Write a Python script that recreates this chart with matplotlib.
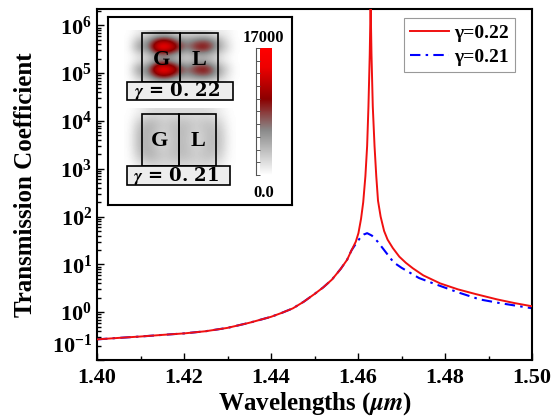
import numpy as np
import matplotlib
matplotlib.use("Agg")
import matplotlib.pyplot as plt
from matplotlib.colors import LinearSegmentedColormap, Normalize
from matplotlib.cm import ScalarMappable
from matplotlib.patches import Rectangle
from matplotlib.transforms import ScaledTranslation
from matplotlib.ticker import FixedLocator, LogLocator, NullFormatter, FuncFormatter

plt.rcParams["font.family"] = ["Liberation Serif", "DejaVu Serif"]
plt.rcParams["font.weight"] = "bold"
plt.rcParams["mathtext.fontset"] = "custom"
plt.rcParams["mathtext.rm"] = "Liberation Serif:bold"
plt.rcParams["mathtext.bf"] = "Liberation Serif:bold"
plt.rcParams["mathtext.it"] = "Liberation Serif:italic:bold"

# ---- data ----
wl_022 = [1.400, 1.405, 1.410, 1.415, 1.420, 1.425, 1.430, 1.435, 1.440, 1.4425,
          1.445, 1.4475, 1.450, 1.452, 1.454, 1.456, 1.4575, 1.4585, 1.4595, 1.4601,
          1.4607, 1.4612, 1.4617, 1.4621, 1.4624, 1.4627, 1.4629, 1.4631, 1.4634,
          1.4638, 1.4642, 1.4646, 1.4652, 1.4660, 1.4668, 1.4680, 1.4695, 1.4710,
          1.4726, 1.4750, 1.4789, 1.4830, 1.4870, 1.4920, 1.4960, 1.5000]
tc_022 = [0.27, 0.29, 0.31, 0.335, 0.36, 0.40, 0.47, 0.60, 0.80, 0.97,
          1.2, 1.65, 2.4, 3.3, 4.8, 8.0, 12.5, 19.6, 30, 45,
          90, 200, 700, 3000, 2.0e4, 2.5e5, 3.0e6, 2.5e5, 2.0e4,
          3000, 700, 215, 100, 50, 33, 22, 14.5, 10.8,
          8.3, 5.9, 4.0, 3.0, 2.4, 1.85, 1.55, 1.33]

wl_021 = [1.400, 1.405, 1.410, 1.415, 1.420, 1.425, 1.430, 1.435, 1.440, 1.4425,
          1.445, 1.4475, 1.450, 1.452, 1.454, 1.456, 1.4575, 1.4585, 1.4595, 1.4605,
          1.4613, 1.4621, 1.4632, 1.4645, 1.4660, 1.4682, 1.4700, 1.4740, 1.4773,
          1.4830, 1.4880, 1.4926, 1.5000]
tc_021 = [0.27, 0.29, 0.31, 0.335, 0.36, 0.40, 0.47, 0.60, 0.80, 0.97,
          1.2, 1.65, 2.4, 3.3, 4.8, 8.0, 12.5, 19.6, 27, 36,
          42, 45, 40, 30, 20, 11, 8.5, 5.2, 4.0,
          2.6, 1.85, 1.55, 1.21]

labels = ["\u03b3=0.22", "\u03b3=0.21"]

# field maps shown in the inset (fraction of 17000, coarse samples)
cmax = 17000
field_022 = np.array([
    [0, .05, .10, .15, .15, .10, .10, .10, .10, .05, .05, 0],
    [0, .20, .30, .60, .65, .40, .30, .40, .45, .30, .10, 0],
    [0, .30, .35, .95, 1.0, .65, .35, .60, .65, .35, .15, 0],
    [0, .10, .15, .35, .35, .25, .15, .25, .25, .15, .05, 0],
    [0, .10, .15, .35, .35, .25, .15, .25, .25, .15, .05, 0],
    [0, .30, .35, .95, 1.0, .65, .35, .60, .65, .35, .15, 0],
    [0, .20, .30, .60, .65, .40, .30, .40, .45, .30, .10, 0],
    [0, .05, .10, .15, .15, .10, .10, .10, .10, .05, .05, 0],
]) * cmax
field_021 = np.array([
    [0, .05, .10, .10, .10, .10, .10, .10, .05, 0],
    [0, .20, .25, .15, .20, .20, .15, .20, .15, 0],
    [0, .25, .20, .10, .20, .20, .10, .20, .20, 0],
    [0, .25, .20, .10, .20, .20, .10, .20, .20, 0],
    [0, .20, .25, .15, .20, .20, .15, .20, .15, 0],
    [0, .05, .10, .10, .10, .10, .10, .10, .05, 0],
]) * cmax

W, H = 551, 416
fig = plt.figure(figsize=(W / 100, H / 100), dpi=100)
ax = fig.add_axes([97 / W, 1 - 360 / H, 435 / W, 351 / H])

ax.plot(wl_022, tc_022, color="#f01010", lw=1.4, label=labels[0], zorder=3)
ax.plot(wl_021, tc_021, color="#0000ff", lw=1.5, dashes=(5, 2.5, 1.2, 2.5),
        label=labels[1], zorder=2)

ax.set_yscale("log")
ax.set_xlim(1.40, 1.50)
ax.set_ylim(0.1, 2.2e6)
ax.set_xticks(np.arange(1.40, 1.501, 0.02))
ax.xaxis.set_minor_locator(FixedLocator(np.arange(1.41, 1.50, 0.02)))
ax.xaxis.set_major_formatter(FuncFormatter(lambda v, p: f"{v:.2f}"))
ax.yaxis.set_major_locator(FixedLocator([1e-1, 1e0, 1e1, 1e2, 1e3, 1e4, 1e5, 1e6]))
ax.yaxis.set_minor_locator(LogLocator(base=10, subs=np.arange(2, 10), numticks=20))
ax.yaxis.set_minor_formatter(NullFormatter())
ax.yaxis.set_major_formatter(FuncFormatter(lambda v, p: r"$\mathbf{10^{%d}}$" % round(np.log10(v))))
ax.tick_params(which="both", direction="in", top=False, right=False, labelsize=16, width=1.0)
ax.tick_params(which="major", length=5)
ax.tick_params(which="minor", length=3)
ax.tick_params(axis="x", pad=6)
for s in ax.spines.values():
    s.set_linewidth(1.5)

# lift the bottom y label clear of the 1.40 label, as in the original
low = ax.yaxis.get_major_ticks()[0].label1
low.set_transform(low.get_transform() + ScaledTranslation(0, 0.16, fig.dpi_scale_trans))

ax.set_xlabel(r"Wavelengths ($\mu m$)", fontsize=18, fontweight="bold",
              math_fontfamily="stix", labelpad=1)
ax.set_ylabel("Transmission Coefficient", fontsize=18, fontweight="bold", labelpad=11)

leg = ax.legend(loc="upper right", bbox_to_anchor=(0.961, 0.974), borderaxespad=0,
                fancybox=False, edgecolor="#808080", fontsize=14, handlelength=2.0,
                handletextpad=0.3, borderpad=0.3, labelspacing=0.35)
leg.get_frame().set_linewidth(0.8)

# ---- inset with field maps ----
cmap = LinearSegmentedColormap.from_list(
    "gr", [(0, "#ffffff"), (0.35, "#8a8a8a"), (0.6, "#8b0000"), (0.85, "#ee0000"), (1, "#ff0000")])
ins = fig.add_axes([108 / W, 1 - 205 / H, 184 / W, 188 / H])
ins.set_xlim(108, 292)
ins.set_ylim(205, 17)
ins.set_xticks([])
ins.set_yticks([])
for s in ins.spines.values():
    s.set_linewidth(1.5)

ins.imshow(field_022, extent=(124, 240, 86, 30), cmap=cmap, vmin=0, vmax=cmax,
           interpolation="bicubic", aspect="auto")
ins.imshow(field_021, extent=(124, 236, 172, 108), cmap=cmap, vmin=0, vmax=cmax,
           interpolation="bicubic", aspect="auto")

def cell(x0, y0, x1, y1, face="none"):
    ins.add_patch(Rectangle((x0, y0), x1 - x0, y1 - y0, facecolor=face,
                            edgecolor="black", lw=1.2, zorder=4))

cell(142, 33, 180, 82)
cell(180, 33, 218, 82)
cell(127, 82, 233, 100, face="#ededed")
cell(142, 114, 179, 166)
cell(179, 114, 216, 166)
cell(127, 166, 230, 185, face="#ededed")

for x, y, t in [(161, 60, "G"), (199, 60, "L"), (160, 141, "G"), (198, 141, "L")]:
    ins.text(x, y, t, ha="center", va="center", fontsize=16, fontweight="bold", zorder=5)
for x, y, t in [(177, 91.5, "0.22"), (176, 176, "0.21")]:
    ins.text(x, y, r"$\gamma$ = " + t[:2] + " " + t[2:], ha="center", va="center",
             fontsize=13, fontweight="bold", family="DejaVu Serif",
             math_fontfamily="stix", zorder=5)
ins.text(263, 38, "17000", ha="center", va="center", fontsize=12, fontweight="bold")
ins.text(264, 193, "0.0", ha="center", va="center", fontsize=12, fontweight="bold")

cax = fig.add_axes([260 / W, 1 - 175 / H, 12 / W, 127 / H])
cb = fig.colorbar(ScalarMappable(Normalize(0, cmax), cmap), cax=cax)
cb.outline.set_visible(False)
cax.yaxis.set_ticks_position("left")
cax.set_yticks(np.linspace(0, cmax, 11))
cax.tick_params(direction="in", length=3, width=0.7, color="#555555", labelleft=False)
cax.spines["left"].set_visible(True)
cax.spines["left"].set_position(("outward", 3))
cax.spines["left"].set_color("#555555")
cax.spines["left"].set_linewidth(0.8)

fig.savefig("out.png", dpi=100)
